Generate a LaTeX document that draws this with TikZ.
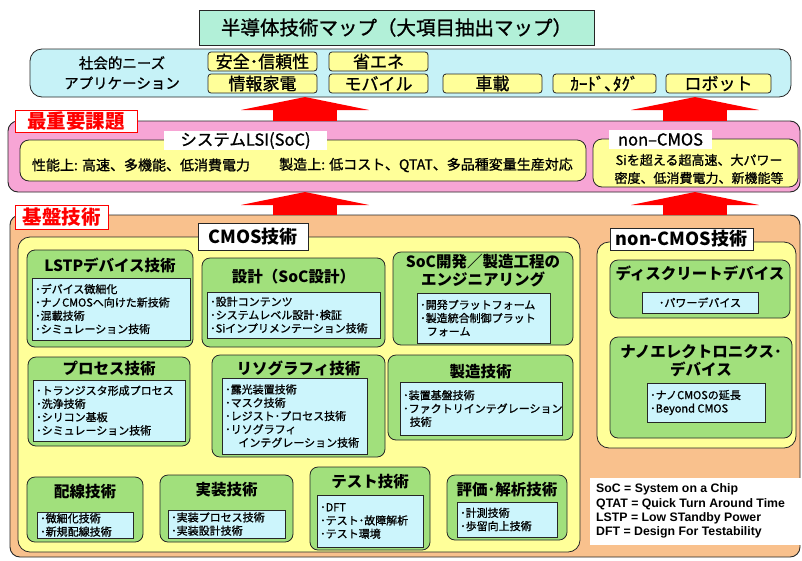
\documentclass[tikz,border=0pt]{standalone}
\usepackage{fontspec}
\setmainfont{Noto Sans CJK JP}
\newfontfamily\medfont[FakeBold=1]{Noto Sans CJK JP}
\newfontfamily\legfont{Liberation Sans}
\usetikzlibrary{arrows.meta}
\definecolor{titlefill}{HTML}{B2F0D8}
\definecolor{needsfill}{HTML}{C6F2F7}
\definecolor{itemfill}{HTML}{FFFF99}
\definecolor{pinkfill}{HTML}{F7A5D5}
\definecolor{yelfill}{HTML}{FFFF99}
\definecolor{orangefill}{HTML}{F9C18D}
\definecolor{greenfill}{HTML}{A1E07C}
\definecolor{cyanfill}{HTML}{CCF5FC}
\definecolor{redtext}{HTML}{FF0000}
\newcommand\mkbox[7]{\node[#1, minimum width={(#5)-(#3)}, minimum height={(#6)-(#4)}] (#2) at ({((#3)+(#5))/2},{((#4)+(#6))/2}) {#7};}
\newcommand\fs[1]{\fontsize{#1}{#1}\selectfont}
\tikzset{
  base/.style={inner sep=0pt, outer sep=0pt, draw=black!85, line width=0.8pt},
  titlebox/.style={base, fill=titlefill, font=\medfont\fs{19.5}},
  needsbox/.style={base, fill=needsfill, rounded corners=12pt},
  itembox/.style={base, fill=itemfill, rounded corners=3pt, font=\medfont\fs{17}},
  pinkbox/.style={base, fill=pinkfill, rounded corners=10pt, line width=0.9pt},
  yelbox/.style={base, fill=yelfill, rounded corners=9pt},
  orangebox/.style={base, fill=orangefill, rounded corners=10pt, line width=0.9pt},
  greenbox/.style={base, fill=greenfill, rounded corners=8pt},
  cyanbox/.style={base, fill=cyanfill, line width=0.7pt},
  redlabel/.style={base, draw=redtext, fill=white, text=redtext, font=\bfseries\fs{19.5}},
  wlabel/.style={inner sep=0pt, outer sep=0pt, fill=white, font=\medfont\fs{16.5}},
  blabel/.style={base, fill=white, font=\bfseries\fs{18}},
  legbox/.style={inner sep=0pt, outer sep=0pt, fill=white},
  ntext/.style={inner sep=0pt, font=\medfont\fs{14.5}},
  ptext/.style={inner sep=0pt, font=\medfont\fs{14}},
  qtext/.style={inner sep=0pt, font=\medfont\fs{13}},
  gtitle/.style={inner sep=0pt, align=center, font=\bfseries\fontsize{15.5}{18}\selectfont},
  listtext/.style={inner sep=0pt, align=left, anchor=west, xshift=3pt, font=\medfont\fontsize{11}{13.3}\selectfont},
  legtext/.style={inner sep=0pt, align=left, anchor=west, font=\legfont\bfseries\fontsize{12.3}{14.3}\selectfont},
  bigarrow/.style={draw=red, line width=64pt, -{Triangle[width=128pt,length=13pt,line width=0pt]}}
}
\begin{document}
\begin{tikzpicture}[x=1pt,y=-1pt]
\useasboundingbox (0,0) rectangle (802,560);
\fill[white] (0,0) rectangle (802,560);

% title
\mkbox{titlebox}{title}{199}{10}{594}{45}{半導体技術マップ（大項目抽出マップ）}

% needs / applications
\mkbox{needsbox}{needs}{30}{49}{791}{97}{}
\node[ntext] (nA) at (122,63) {社会的ニーズ};
\node[ntext] (nB) at (122,83) {アプリケーション};
\mkbox{itembox}{i1}{208}{52}{317}{71}{安全･信頼性}
\mkbox{itembox}{i2}{329}{52}{428}{71}{省エネ}
\mkbox{itembox}{i3}{208}{74}{317}{93}{情報家電}
\mkbox{itembox}{i4}{329}{74}{428}{93}{モバイル}
\mkbox{itembox}{i5}{443}{74}{542}{93}{車載}
\mkbox{itembox}{i6}{553}{74}{656}{93}{ｶｰﾄﾞ､ﾀｸﾞ}
\mkbox{itembox}{i7}{666}{74}{771}{93}{ロボット}

% most important issues
\mkbox{pinkbox}{pink}{8}{121}{800}{192}{}
\mkbox{redlabel}{lab1}{15}{110}{137}{132}{最重要課題}
\mkbox{yelbox}{soc}{20}{140}{586}{181}{}
\mkbox{wlabel}{socl}{164}{131}{327}{150}{システムLSI(SoC)}
\node[ptext] (socA) at (141,165) {性能上: 高速、多機能、低消費電力};
\node[ptext] (socB) at (426,165) {製造上: 低コスト、QTAT、多品種変量生産対応};
\mkbox{yelbox}{ncm}{593}{139}{798}{187}{}
\mkbox{wlabel}{ncml}{609}{130}{712}{149}{non–CMOS}
\node[qtext] (ncmA) at (699,160) {Siを超える超高速、大パワー};
\node[qtext] (ncmB) at (699,178) {密度、低消費電力、新機能等};

% base technologies
\mkbox{orangebox}{orange}{10}{215}{800}{557}{}
\mkbox{redlabel}{lab2}{15}{205}{108}{229}{基盤技術}

% arrows
\coordinate (axL) at (305,0);
\coordinate (axR) at (695,0);
\draw[bigarrow] (pink.north -| axL) -- (needs.south -| axL);
\draw[bigarrow] (pink.north -| axR) -- (needs.south -| axR);
\draw[bigarrow] (orange.north -| axL) -- (pink.south -| axL);
\draw[bigarrow] (orange.north -| axR) -- (pink.south -| axR);

% CMOS
\mkbox{yelbox, rounded corners=12pt}{cmos}{18}{237}{580}{552}{}
\mkbox{blabel}{cmosl}{198}{223}{308}{250}{CMOS技術}

\mkbox{greenbox}{lstp}{27}{250}{193}{347}{}
\node[gtitle] (lstpT) at (110,265) {LSTPデバイス技術};
\mkbox{cyanbox}{lstpC}{32}{278}{190}{340}{}
\node[listtext] (lstpL) at (lstpC.west) {･デバイス微細化\\･ナノCMOSへ向けた新技術\\･混載技術\\･シミュレーション技術};

\mkbox{greenbox}{sekkei}{202}{258}{385}{347}{}
\node[gtitle] (sekkeiT) at (293.5,277) {設計（SoC設計）};
\mkbox{cyanbox}{sekkeiC}{207}{292}{380}{338}{}
\node[listtext] (sekkeiL) at (sekkeiC.west) {･設計コンテンツ\\･システムレベル設計･検証\\･Siインプリメンテーション技術};

\mkbox{greenbox}{eng}{393}{252}{573}{345}{}
\node[gtitle] (engT) at (483,271) {SoC開発／製造工程の\\エンジニアリング};
\mkbox{cyanbox}{engC}{417}{293}{550}{343}{}
\node[listtext] (engL) at (engC.west) {･開発プラットフォーム\\･製造統合制御プラット\\\hspace*{0.6em}フォーム};

\mkbox{greenbox}{proc}{28}{357}{190}{446}{}
\node[gtitle] (procT) at (109,369) {プロセス技術};
\mkbox{cyanbox}{procC}{33}{380}{185}{441}{}
\node[listtext] (procL) at (procC.west) {･トランジスタ形成プロセス\\･洗浄技術\\･シリコン基板\\･シミュレーション技術};

\mkbox{greenbox}{litho}{212}{355}{385}{457}{}
\node[gtitle] (lithoT) at (298.5,368) {リソグラフィ技術};
\mkbox{cyanbox}{lithoC}{222}{378}{367}{454}{}
\node[listtext] (lithoL) at (lithoC.west) {･露光装置技術\\･マスク技術\\･レジスト･プロセス技術\\･リソグラフィ\\\hspace*{1.2em}インテグレーション技術};

\mkbox{greenbox}{manu}{388}{355}{573}{440}{}
\node[gtitle] (manuT) at (480.5,372) {製造技術};
\mkbox{cyanbox}{manuC}{400}{382}{562}{435}{}
\node[listtext] (manuL) at (manuC.west) {･装置基盤技術\\･ファクトリインテグレーション\\\hspace*{0.6em}技術};

\mkbox{greenbox}{wire}{27}{477}{143}{542}{}
\node[gtitle] (wireT) at (85,492) {配線技術};
\mkbox{cyanbox}{wireC}{37}{512}{133}{538}{}
\node[listtext] (wireL) at (wireC.west) {･微細化技術\\･新規配線技術};

\mkbox{greenbox}{pkg}{160}{475}{293}{542}{}
\node[gtitle] (pkgT) at (226.5,490) {実装技術};
\mkbox{cyanbox}{pkgC}{168}{510}{285}{538}{}
\node[listtext] (pkgL) at (pkgC.west) {･実装プロセス技術\\･実装設計技術};

\mkbox{greenbox}{test}{310}{467}{430}{550}{}
\node[gtitle] (testT) at (370,482) {テスト技術};
\mkbox{cyanbox}{testC}{317}{495}{423}{547}{}
\node[listtext] (testL) at (testC.west) {･DFT\\･テスト･故障解析\\･テスト環境};

\mkbox{greenbox}{eval}{447}{475}{567}{540}{}
\node[gtitle] (evalT) at (507,490) {評価･解析技術};
\mkbox{cyanbox}{evalC}{457}{502}{557}{537}{}
\node[listtext] (evalL) at (evalC.west) {･計測技術\\･歩留向上技術};

% non-CMOS technologies
\mkbox{yelbox, rounded corners=12pt}{ncmt}{597}{242}{796}{448}{}
\mkbox{blabel}{ncmtl}{610}{228}{753}{250}{non-CMOS技術}

\mkbox{greenbox}{disc}{610}{260}{790}{318}{}
\node[gtitle] (discT) at (700,273) {ディスクリートデバイス};
\mkbox{cyanbox}{discC}{642}{292}{758}{313}{}
\node[inner sep=0pt, font=\medfont\fontsize{11}{13.3}\selectfont] (discL) at (discC.center) {･パワーデバイス};

\mkbox{greenbox}{nano}{610}{337}{792}{438}{}
\node[gtitle] (nanoT) at (701,361) {ナノエレクトロニクス･\\デバイス};
\mkbox{cyanbox}{nanoC}{647}{383}{765}{422}{}
\node[listtext] (nanoL) at (nanoC.west) {･ナノCMOSの延長\\･Beyond CMOS};

% legend
\mkbox{legbox}{leg}{590}{478}{802}{545}{}
\node[legtext] (legT) at (596,511) {SoC = System on a Chip\\QTAT = Quick Turn Around Time\\LSTP = Low STandby Power\\DFT = Design For Testability};
\end{tikzpicture}
\end{document}
